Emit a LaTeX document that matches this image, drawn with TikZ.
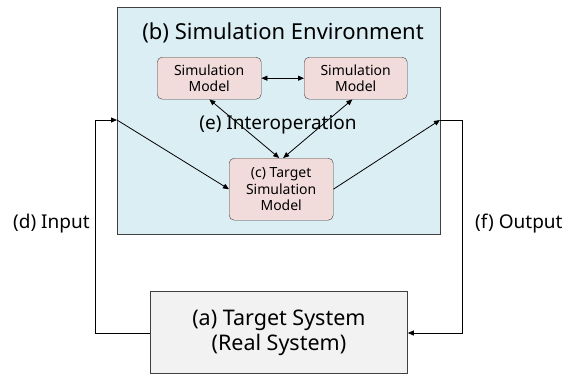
\documentclass[tikz,border=0pt]{standalone}
\usepackage{fontspec}
\setmainfont{Noto Sans}
\usetikzlibrary{arrows.meta}
\definecolor{envfill}{HTML}{DAEEF3}
\definecolor{smfill}{HTML}{F2DCDB}
\definecolor{tsfill}{HTML}{F2F2F2}
\definecolor{edge}{HTML}{404040}
\begin{document}
\begin{tikzpicture}[x=1pt,y=-1pt,
  smbox/.style={draw=edge,fill=smfill,rounded corners=5pt,align=center,font=\fontsize{14}{16.5}\selectfont,inner sep=0pt},
  conn/.style={draw=black,line width=0.8pt},
  arr/.style={conn,-{Triangle[length=6pt,width=5pt]}},
  darr/.style={conn,{Triangle[length=6pt,width=5pt]}-{Triangle[length=6pt,width=5pt]}}]
\useasboundingbox (0,0) rectangle (579,376);
\node[draw=edge,fill=envfill,line width=0.8pt,minimum width=323pt,minimum height=227pt,anchor=north west,inner sep=0pt] (env) at (117,7) {};
\node[font=\fontsize{22}{26}\selectfont] (title) at (283,33) {(b) Simulation Environment};
\node[smbox,minimum width=104pt,minimum height=42pt,anchor=north west] (sm1) at (157,57) {Simulation\\Model};
\node[smbox,minimum width=103pt,minimum height=42pt,anchor=north west] (sm2) at (304,57) {Simulation\\Model};
\node[smbox,minimum width=104pt,minimum height=62pt,anchor=north west] (tsm) at (229,158) {(c) Target\\Simulation\\Model};
\node[font=\fontsize{19}{22}\selectfont] (inter) at (278,125) {(e) Interoperation};
\node[draw=edge,fill=tsfill,line width=0.8pt,minimum width=257pt,minimum height=82pt,anchor=north west,inner sep=0pt,align=center,font=\fontsize{21.5}{25}\selectfont] (ts) at (150,291) {(a) Target System\\(Real System)};
\node[font=\fontsize{19}{22}\selectfont,anchor=west,inner sep=0pt] (in) at (13,224) {(d) Input};
\node[font=\fontsize{19}{22}\selectfont,anchor=west,inner sep=0pt] (out) at (475,224) {(f) Output};
\coordinate (inpt) at (117,120);
\coordinate (outpt) at (440,120);
\draw[darr] (sm1.east) -- (sm2.west);
\draw[darr] ([xshift=-52pt]sm1.south east) -- ([xshift=-2pt]tsm.north);
\draw[darr] ([xshift=-55pt]sm2.south east) -- ([xshift=2pt]tsm.north);
\draw[arr] (inpt) -- (tsm.west);
\draw[arr] (tsm.east) -- (outpt);
\draw[arr] (ts.west |- 0,333) -| (95,120) -- (inpt);
\draw[arr] (outpt) -- (462,120) |- (ts.east |- 0,333);
\end{tikzpicture}
\end{document}
